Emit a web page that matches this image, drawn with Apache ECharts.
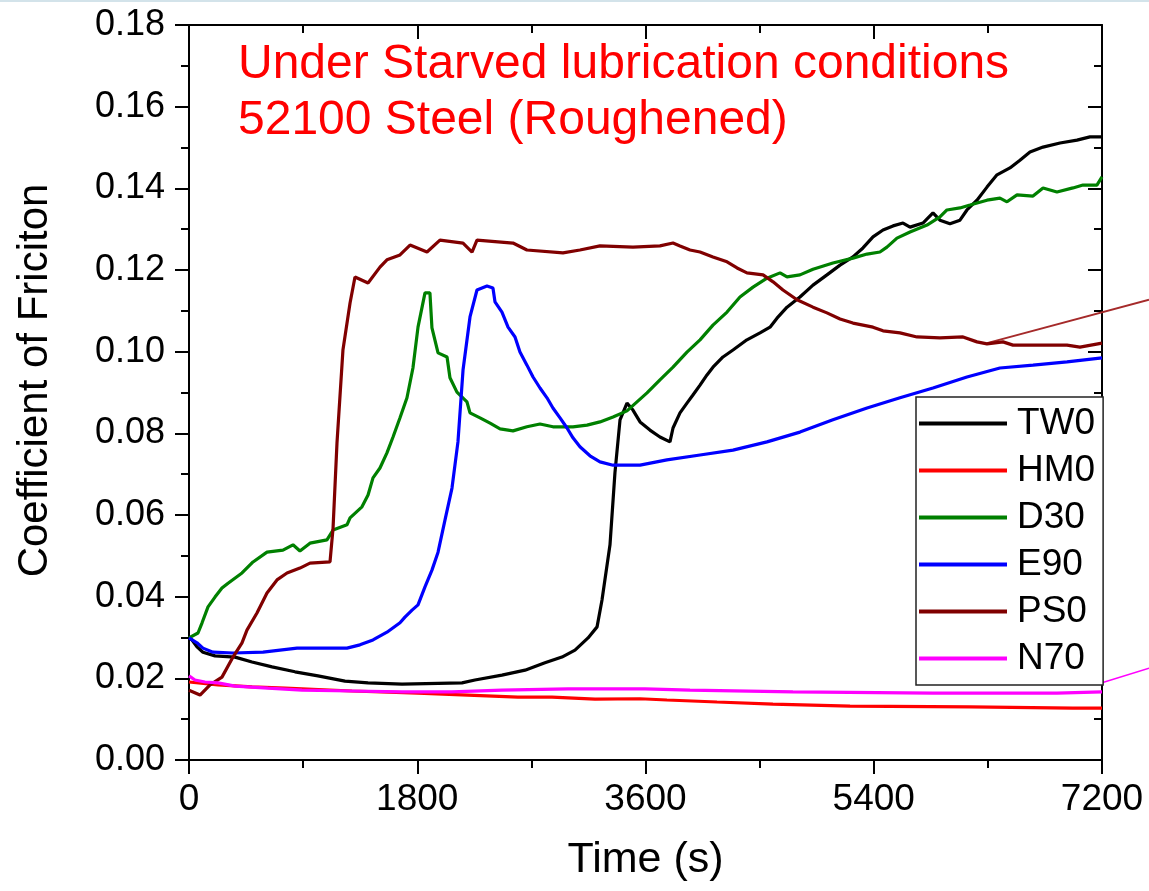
<!DOCTYPE html>
<html>
<head>
<meta charset="utf-8">
<script src="https://cdn.jsdelivr.net/npm/echarts@6/dist/echarts.min.js"></script>
<style>
  html, body { margin: 0; padding: 0; background: #ffffff; }
  #chart { width: 1149px; height: 891px; }
</style>
</head>
<body>
<div id="chart"></div>
<script>
// ---- data: [time (s), coefficient of friction] ----
const seriesNames = ['TW0', 'HM0', 'D30', 'E90', 'PS0', 'N70'];
const seriesColors = ['#000000', '#ff0000', '#008000', '#0000ff', '#800000', '#ff00ff'];
const xTicks = [0, 1800, 3600, 5400, 7200];
const yTicks = [0.00, 0.02, 0.04, 0.06, 0.08, 0.10, 0.12, 0.14, 0.16, 0.18];
const titleLines = ['Under Starved lubrication conditions', '52100 Steel (Roughened)'];

const TW0 = [[0,0.0299],[24,0.0294],[63,0.0277],[110,0.0264],[205,0.0255],[363,0.0252],[497,0.0240],[655,0.0228],[836,0.0216],[1017,0.0206],[1230,0.0193],[1412,0.0189],[1680,0.0186],[2153,0.0189],[2255,0.0196],[2468,0.0208],[2650,0.0220],[2807,0.0238],[2941,0.0252],[3044,0.0269],[3147,0.0299],[3218,0.0326],[3257,0.0392],[3320,0.0527],[3359,0.0703],[3399,0.0833],[3454,0.0874],[3501,0.0857],[3557,0.0828],[3635,0.0808],[3714,0.0791],[3793,0.0779],[3817,0.0813],[3872,0.0850],[3927,0.0874],[3974,0.0894],[4030,0.0918],[4085,0.0943],[4132,0.0962],[4211,0.0987],[4290,0.1004],[4400,0.1029],[4503,0.1046],[4582,0.1060],[4637,0.1082],[4716,0.1109],[4818,0.1134],[4921,0.1163],[5031,0.1188],[5134,0.1212],[5236,0.1232],[5315,0.1254],[5394,0.1281],[5473,0.1298],[5552,0.1308],[5631,0.1315],[5686,0.1305],[5788,0.1315],[5867,0.1340],[5922,0.1322],[6001,0.1313],[6080,0.1322],[6135,0.1347],[6214,0.1371],[6293,0.1403],[6372,0.1433],[6474,0.1450],[6553,0.1469],[6632,0.1489],[6735,0.1501],[6869,0.1511],[7003,0.1518],[7105,0.1526],[7200,0.1526]];

const HM0 = [[0,0.0191],[229,0.0184],[497,0.0179],[757,0.0176],[1285,0.0169],[1806,0.0164],[2200,0.0159],[2594,0.0154],[2863,0.0154],[3202,0.0149],[3557,0.0150],[3769,0.0147],[4164,0.0142],[4605,0.0137],[5213,0.0132],[6159,0.0130],[6971,0.0127],[7200,0.0127]];

const D30 = [[0,0.0299],[71,0.0311],[103,0.0336],[150,0.0375],[205,0.0399],[260,0.0421],[308,0.0433],[418,0.0458],[505,0.0485],[615,0.0509],[741,0.0514],[820,0.0527],[875,0.0512],[954,0.0531],[1088,0.0539],[1136,0.0563],[1246,0.0576],[1270,0.0593],[1364,0.0620],[1412,0.0649],[1451,0.0691],[1506,0.0715],[1561,0.0752],[1609,0.0791],[1664,0.0838],[1719,0.0887],[1766,0.0960],[1806,0.1060],[1861,0.1144],[1900,0.1144],[1916,0.1058],[1964,0.0997],[2035,0.0987],[2058,0.0936],[2113,0.0901],[2192,0.0877],[2216,0.0850],[2295,0.0838],[2374,0.0825],[2453,0.0811],[2555,0.0806],[2665,0.0816],[2768,0.0823],[2870,0.0816],[3028,0.0816],[3139,0.0820],[3241,0.0828],[3344,0.0840],[3454,0.0855],[3612,0.0899],[3714,0.0931],[3817,0.0962],[3927,0.0999],[4030,0.1029],[4132,0.1065],[4243,0.1097],[4345,0.1134],[4448,0.1158],[4558,0.1180],[4661,0.1193],[4716,0.1183],[4818,0.1188],[4921,0.1202],[5078,0.1217],[5236,0.1229],[5347,0.1239],[5449,0.1244],[5504,0.1256],[5583,0.1278],[5686,0.1293],[5820,0.1310],[5922,0.1330],[5977,0.1347],[6080,0.1352],[6159,0.1359],[6293,0.1371],[6395,0.1376],[6451,0.1367],[6530,0.1384],[6656,0.1381],[6735,0.1401],[6845,0.1391],[6971,0.1401],[7050,0.1408],[7160,0.1408],[7200,0.1428]];

const E90 = [[0,0.0299],[63,0.0287],[110,0.0274],[189,0.0264],[347,0.0262],[584,0.0264],[852,0.0274],[1246,0.0274],[1348,0.0282],[1451,0.0294],[1561,0.0313],[1664,0.0336],[1703,0.0350],[1759,0.0367],[1806,0.0380],[1861,0.0424],[1916,0.0465],[1964,0.0509],[2019,0.0588],[2074,0.0666],[2121,0.0779],[2161,0.0955],[2216,0.1085],[2271,0.1151],[2350,0.1161],[2397,0.1156],[2413,0.1122],[2468,0.1097],[2516,0.1060],[2571,0.1036],[2610,0.0999],[2665,0.0967],[2713,0.0938],[2768,0.0911],[2823,0.0887],[2870,0.0862],[2926,0.0838],[2981,0.0813],[3028,0.0789],[3083,0.0767],[3162,0.0745],[3241,0.0730],[3344,0.0722],[3557,0.0722],[3769,0.0735],[4030,0.0747],[4290,0.0759],[4558,0.0779],[4818,0.0803],[5078,0.0833],[5347,0.0862],[5607,0.0887],[5867,0.0911],[6135,0.0938],[6395,0.0960],[6656,0.0967],[6924,0.0975],[7200,0.0985]];

const PS0 = [[0,0.0171],[87,0.0159],[166,0.0184],[260,0.0203],[347,0.0252],[418,0.0287],[457,0.0318],[536,0.0360],[615,0.0409],[694,0.0441],[773,0.0458],[875,0.0470],[954,0.0482],[1112,0.0485],[1136,0.0568],[1167,0.0776],[1214,0.1004],[1270,0.1119],[1309,0.1183],[1412,0.1168],[1506,0.1207],[1561,0.1225],[1664,0.1237],[1743,0.1261],[1877,0.1244],[1979,0.1273],[2161,0.1266],[2232,0.1244],[2271,0.1273],[2555,0.1266],[2665,0.1249],[2949,0.1242],[3083,0.1249],[3241,0.1259],[3501,0.1256],[3714,0.1259],[3817,0.1266],[3872,0.1259],[3951,0.1249],[4030,0.1244],[4132,0.1232],[4243,0.1220],[4322,0.1205],[4400,0.1193],[4527,0.1188],[4606,0.1171],[4684,0.1151],[4795,0.1127],[4921,0.1109],[5031,0.1095],[5134,0.1080],[5236,0.1070],[5394,0.1060],[5473,0.1051],[5607,0.1046],[5741,0.1036],[5922,0.1034],[6104,0.1036],[6214,0.1024],[6293,0.1019],[6419,0.1024],[6498,0.1016],[6924,0.1016],[7026,0.1011],[7200,0.1021]];

const N70 = [[0,0.0206],[47,0.0196],[126,0.0191],[229,0.0189],[363,0.0181],[623,0.0176],[891,0.0171],[1285,0.0169],[1680,0.0167],[2074,0.0167],[2468,0.0171],[2989,0.0174],[3596,0.0174],[3951,0.0171],[4763,0.0167],[5867,0.0164],[6845,0.0164],[7200,0.0167]];

// leader lines running out of the plot on the right (data coordinates)
const PS0_leader = [[6293,0.1021],[7571,0.1127]];
const N70_leader = [[7200,0.0189],[7571,0.0225]];

const seriesData = [TW0, HM0, D30, E90, PS0, N70];
const FONT = "'Liberation Sans', Arial, sans-serif";

const chart = echarts.init(document.getElementById('chart'), null, { renderer: 'canvas' });

const axisLineStyle = { color: '#000', width: 2 };

function makeX(pos, inside, showLabel) {
  return {
    type: 'value', position: pos, min: xTicks[0], max: xTicks[xTicks.length - 1],
    interval: xTicks[1] - xTicks[0],
    axisLine: { show: true, onZero: false, lineStyle: axisLineStyle },
    axisTick: { show: true, inside: inside, length: 14, lineStyle: axisLineStyle },
    minorTick: { show: true, splitNumber: 2, length: 8, lineStyle: axisLineStyle },
    splitLine: { show: false }, minorSplitLine: { show: false },
    axisLabel: { show: showLabel, fontSize: 37, color: '#000', margin: 21, fontFamily: FONT,
      formatter: v => String(v) },
    name: showLabel ? 'Time (s)' : '', nameLocation: 'middle', nameGap: 79,
    nameTextStyle: { fontSize: 43, color: '#000', fontFamily: FONT }
  };
}
function makeY(pos, inside, showLabel) {
  return {
    type: 'value', position: pos, min: yTicks[0], max: yTicks[yTicks.length - 1],
    interval: 0.02,
    axisLine: { show: true, onZero: false, lineStyle: axisLineStyle },
    axisTick: { show: true, inside: inside, length: 14, lineStyle: axisLineStyle },
    minorTick: { show: true, splitNumber: 2, length: 8, lineStyle: axisLineStyle },
    splitLine: { show: false }, minorSplitLine: { show: false },
    axisLabel: { show: showLabel, fontSize: 36, color: '#000', margin: 24, fontFamily: FONT,
      formatter: v => v.toFixed(2) },
    name: showLabel ? 'Coefficient of Friciton' : '', nameLocation: 'middle', nameGap: 133,
    nameRotate: 90,
    nameTextStyle: { fontSize: 42, color: '#000', fontFamily: FONT, padding: [0, 0, 0, 24] }
  };
}

const series = seriesNames.map((name, i) => ({
  name: name, type: 'line', data: seriesData[i], showSymbol: false, symbol: 'none',
  clip: false, xAxisIndex: 0, yAxisIndex: 0,
  lineStyle: { color: seriesColors[i], width: 3.2 },
  itemStyle: { color: seriesColors[i] },
  emphasis: { disabled: true }, z: 2
}));

chart.setOption({
  animation: false,
  backgroundColor: '#ffffff',
  title: {
    text: titleLines.join('\n'), left: 238, top: 37, padding: 0,
    textStyle: { color: '#ff0000', fontSize: 48, fontWeight: 'normal', lineHeight: 56, fontFamily: FONT }
  },
  grid: { left: 189, top: 25, width: 913, height: 735, containLabel: false },
  xAxis: [makeX('bottom', false, true), makeX('top', true, false)],
  yAxis: [makeY('left', false, true), makeY('right', true, false)],
  legend: {
    data: seriesNames, orient: 'vertical', left: 916, top: 397,
    icon: 'rect', itemWidth: 88, itemHeight: 4, itemGap: 10,
    padding: [8, 8, 8, 3],
    backgroundColor: '#ffffff', borderColor: '#222', borderWidth: 1.5,
    selectedMode: false,
    textStyle: { fontSize: 37, lineHeight: 37, color: '#000', fontFamily: FONT, padding: [0, 0, 0, 5] }
  },
  series: series
});

// leader lines, positioned through the chart's own scales
function leader(pts, color, width, id) {
  const a = chart.convertToPixel({ gridIndex: 0 }, pts[0]);
  const b = chart.convertToPixel({ gridIndex: 0 }, pts[1]);
  return { id: id, type: 'line', silent: true, z: 1,
    shape: { x1: a[0], y1: a[1], x2: b[0], y2: b[1] },
    style: { stroke: color, lineWidth: width } };
}
chart.setOption({
  graphic: [
    { id: 'topband', type: 'rect', left: 0, top: 0, shape: { width: 1149, height: 2 }, style: { fill: '#d3e3ea' }, silent: true },
    leader(PS0_leader, '#a52a2a', 2, 'ps0lead'),
    leader(N70_leader, '#ff00ff', 1.5, 'n70lead')
  ]
});
</script>
</body>
</html>
